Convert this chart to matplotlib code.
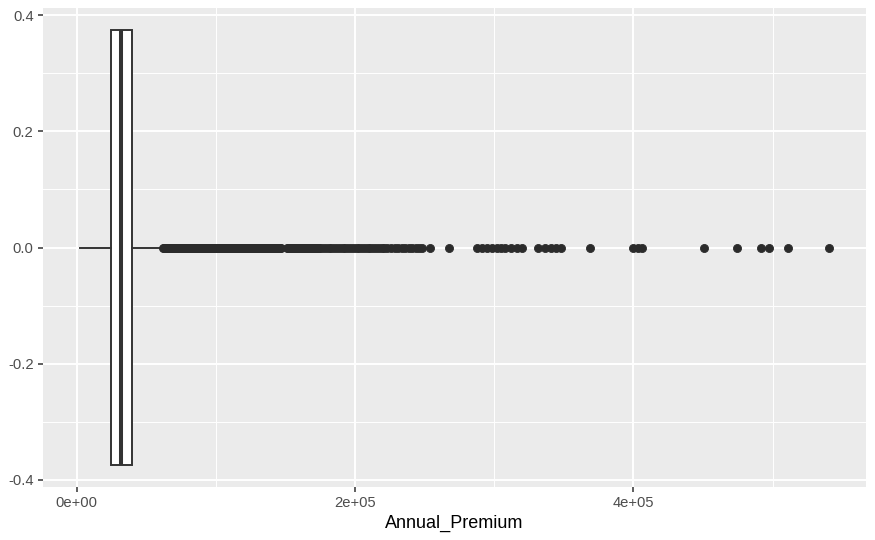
import matplotlib
matplotlib.use("Agg")
import matplotlib.pyplot as plt
from matplotlib.ticker import FixedLocator

plt.rcParams['font.family'] = ['Liberation Sans', 'DejaVu Sans']

# Box statistics
q1 = 24400
median = 31700
q3 = 39400
whisker_low = 2630
whisker_high = 61800

# Outliers
outliers_dense = [62000, 63000, 64000, 65000, 66000, 67000, 68000, 69000, 70000, 71000,
                  72000, 73000, 74000, 75000, 76000, 77000, 78000, 79000, 80000, 81000,
                  82000, 83000, 84000, 85000, 86000, 87000, 88000, 89000, 90000, 91000,
                  92000, 93000, 94000, 95000, 96000, 97000, 98000, 99000, 100000, 101000,
                  102000, 103000, 104000, 105000, 106000, 107000, 108000, 109000, 110000,
                  111000, 112000, 113000, 114000, 115000, 116000, 117000, 118000, 119000,
                  120000, 121000, 122000, 123000, 124000, 125000, 126000, 127000, 128000,
                  129000, 130000, 131000, 132000, 133000, 134000, 135000, 136000, 137000,
                  138000, 139000, 140000, 141000, 142000, 143000, 144000, 145000, 146000,
                  147000, 151000, 152000, 153000, 154000, 155000, 156000, 157000, 158000,
                  159000, 160000, 161000, 162000, 163000, 164000, 165000, 166000, 167000,
                  168000, 169000, 170000, 171000, 172000, 173000, 174000, 175000]
outliers_mid = [177000, 179000, 181000, 183000, 185000, 187000, 189000, 191000, 193000,
                195000, 197000, 199000, 201000, 203000, 205000, 207000, 209000, 211000,
                213000, 215000, 217000, 219000, 221000, 223000,
                226000, 228500, 231000, 233500, 236000, 238500, 241000, 243500, 246000,
                248000, 254000, 267800]
outliers_sparse = [287900, 291500, 295000, 298500, 302000, 304500, 308000, 312000, 316000,
                   320000, 331300, 336500, 340500, 344000, 347900, 368900, 400000, 403000,
                   405800, 450600, 474500, 491900, 497700, 510700, 540165]

x_ticks = [0, 200000, 400000]
x_tick_labels = ["0e+00", "2e+05", "4e+05"]
x_minor = [100000, 300000, 500000]
y_ticks = [-0.4, -0.2, 0.0, 0.2, 0.4]
y_tick_labels = ["-0.4", "-0.2", "0.0", "0.2", "0.4"]
y_minor = [-0.3, -0.1, 0.1, 0.3]
x_title = "Annual_Premium"

fliers = outliers_dense + outliers_mid + outliers_sparse

fig = plt.figure(figsize=(8.75, 5.4), dpi=100)
ax = fig.add_axes([43/875, 1 - 487/540, (866 - 43)/875, (487 - 8)/540])
ax.set_facecolor('#EBEBEB')

stats = [dict(med=median, q1=q1, q3=q3, whislo=whisker_low, whishi=whisker_high,
              fliers=fliers)]
ax.bxp(stats, positions=[0], widths=0.75, orientation='horizontal', showcaps=False,
       patch_artist=True,
       boxprops=dict(facecolor='white', edgecolor='#333333', linewidth=1.4),
       medianprops=dict(color='#333333', linewidth=2.9, solid_capstyle='butt'),
       whiskerprops=dict(color='#333333', linewidth=1.4),
       flierprops=dict(marker='o', markerfacecolor='#2B2B2B', markeredgecolor='#2B2B2B',
                       markersize=5.8, markeredgewidth=0.6),
       zorder=3)

xmin = min(whisker_low, min(fliers))
xmax = max(whisker_high, max(fliers))
pad = 0.05 * (xmax - xmin)
ax.set_xlim(xmin - pad, xmax + pad)
ax.set_ylim(-0.375 - 0.0375, 0.375 + 0.0375)

ax.xaxis.set_major_locator(FixedLocator(x_ticks))
ax.set_xticklabels(x_tick_labels)
ax.xaxis.set_minor_locator(FixedLocator(x_minor))
ax.yaxis.set_major_locator(FixedLocator(y_ticks))
ax.set_yticklabels(y_tick_labels)
ax.yaxis.set_minor_locator(FixedLocator(y_minor))

ax.grid(which='major', color='white', linewidth=1.4, zorder=0)
ax.grid(which='minor', color='white', linewidth=0.7, zorder=0)
ax.set_axisbelow(True)
for s in ax.spines.values():
    s.set_visible(False)
ax.tick_params(which='major', length=3.8, width=1.1, color='#333333',
               labelcolor='#4D4D4D', labelsize=10.6, pad=3)
ax.tick_params(which='minor', length=0)
ax.set_xlabel(x_title, fontsize=13, color='black', labelpad=3)

fig.savefig('out.png', dpi=100)
